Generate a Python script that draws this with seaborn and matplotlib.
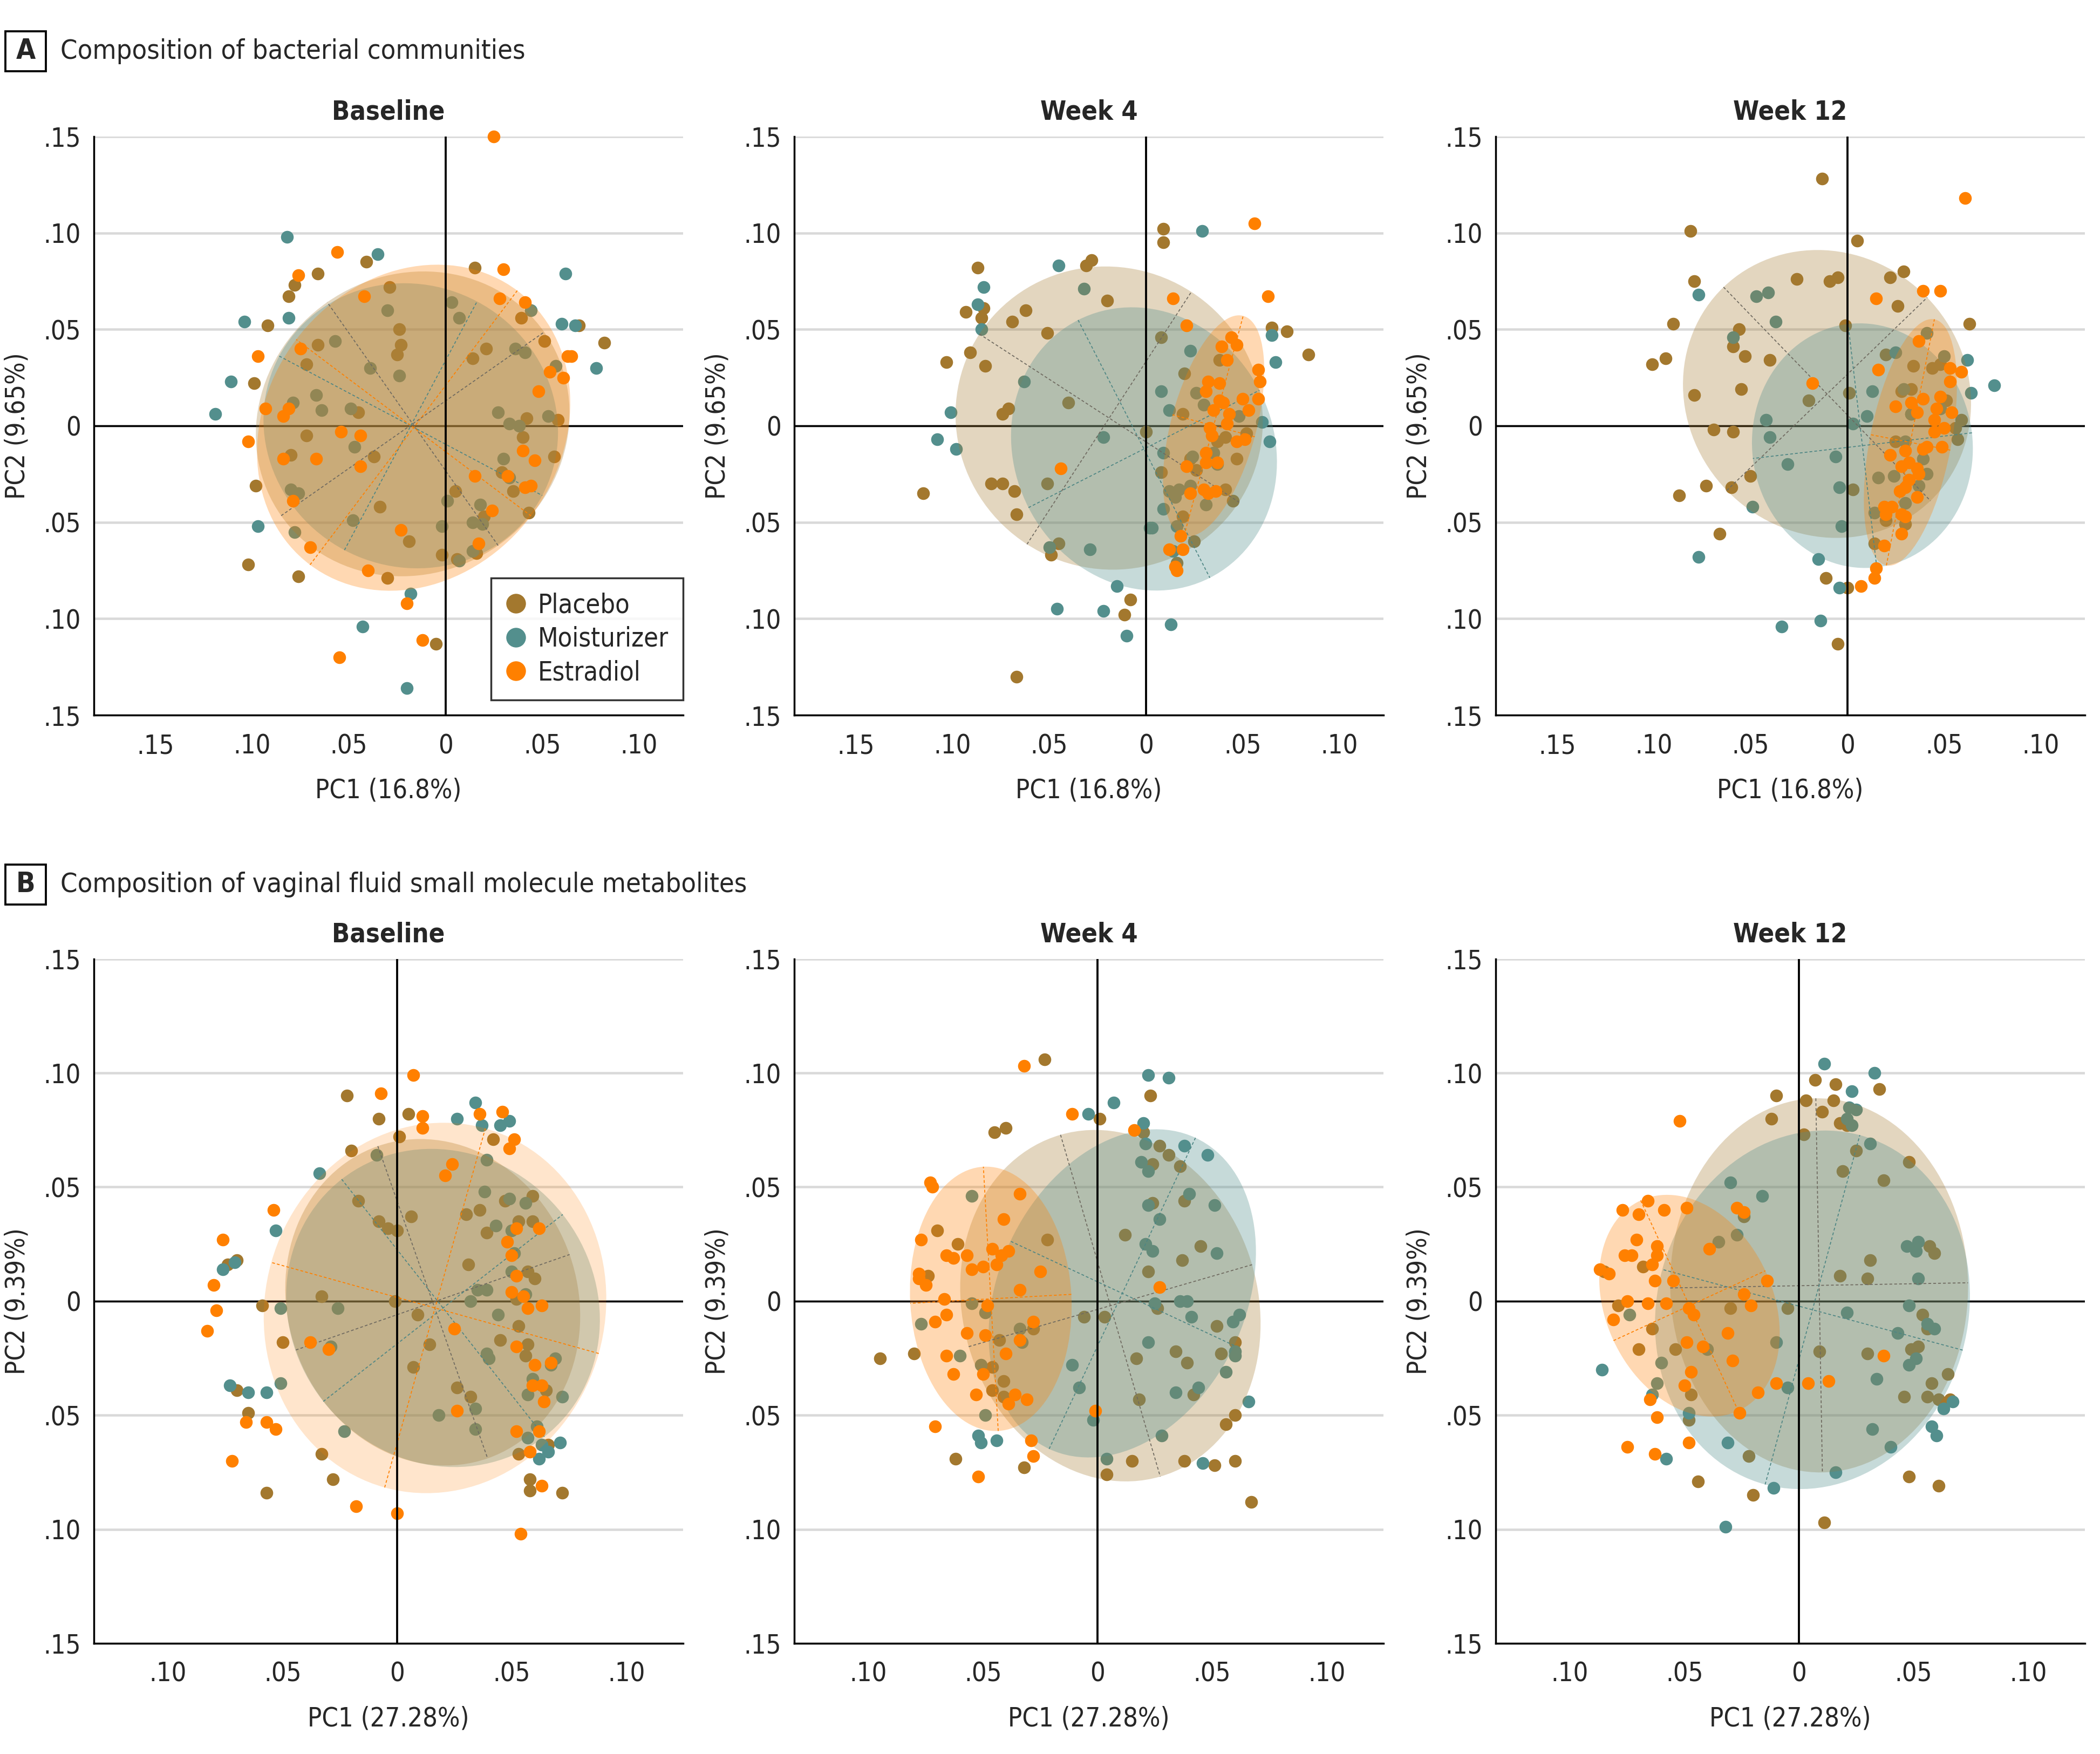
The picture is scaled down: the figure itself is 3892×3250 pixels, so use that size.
import matplotlib
matplotlib.use("Agg")
import matplotlib.pyplot as plt
import seaborn as sns
import numpy as np
from matplotlib.patches import Ellipse, Rectangle
from matplotlib.lines import Line2D
from matplotlib.ticker import FuncFormatter

# -----------------------------
# Data
# -----------------------------
GROUPS = ["Placebo", "Moisturizer", "Estradiol"]
COLORS = {"Placebo": "#A3782E", "Moisturizer": "#538F8D", "Estradiol": "#FF8000"}
LINE_COLORS = {"Placebo": "#6F6A60", "Moisturizer": "#4E8684", "Estradiol": "#FF8000"}

# ---- A: bacterial communities ----
a_base_placebo = [(-0.041,0.085),(-0.066,0.079),(-0.078,0.073),(-0.081,0.067),(-0.092,0.052),(-0.066,0.042),(-0.072,0.032),(-0.099,0.022),(-0.029,0.072),(-0.024,0.050),(-0.023,0.042),(-0.025,0.037),(-0.045,0.007),(-0.072,-0.005),(-0.080,-0.015),(-0.037,-0.016),(-0.098,-0.031),(-0.034,-0.042),(-0.019,-0.060),(-0.102,-0.072),(-0.076,-0.078),(-0.030,-0.079),(-0.005,-0.113),(-0.002,-0.067),(0.006,-0.069),(0.005,-0.034),(0.020,-0.047),(0.016,-0.066),(0.029,-0.024),(0.035,-0.034),(0.043,-0.045),(0.040,-0.006),(0.042,0.004),(0.058,0.003),(0.056,-0.016),(0.051,0.044),(0.039,0.056),(0.021,0.040),(0.014,0.035),(0.015,0.082),(0.069,0.052),(0.082,0.043)]
a_base_moist = [(-0.082,0.098),(-0.035,0.089),(-0.104,0.054),(-0.081,0.056),(-0.111,0.023),(-0.119,0.006),(-0.057,0.044),(-0.039,0.030),(-0.030,0.060),(-0.024,0.026),(-0.067,0.016),(-0.064,0.008),(-0.049,0.009),(-0.079,0.012),(-0.047,-0.011),(-0.080,-0.033),(-0.076,-0.035),(-0.048,-0.049),(-0.078,-0.055),(-0.097,-0.052),(-0.018,-0.087),(-0.043,-0.104),(-0.020,-0.136),(0.001,-0.039),(-0.002,-0.052),(0.007,-0.070),(0.014,-0.065),(0.018,-0.041),(0.014,-0.050),(0.019,-0.051),(0.030,-0.017),(0.033,-0.027),(0.027,0.007),(0.033,0.001),(0.038,0.000),(0.053,0.005),(0.036,0.040),(0.041,0.038),(0.057,0.031),(0.044,0.060),(0.003,0.064),(0.007,0.056),(0.062,0.079),(0.060,0.053),(0.067,0.052),(0.078,0.030)]
a_base_estr = [(0.025,0.150),(-0.056,0.090),(-0.076,0.078),(-0.042,0.067),(-0.075,0.040),(-0.097,0.036),(-0.093,0.009),(-0.081,0.009),(-0.084,0.005),(-0.102,-0.008),(-0.084,-0.017),(-0.067,-0.017),(-0.054,-0.003),(-0.044,-0.005),(-0.044,-0.021),(-0.079,-0.039),(-0.070,-0.063),(-0.040,-0.075),(-0.023,-0.054),(-0.020,-0.092),(-0.012,-0.111),(-0.055,-0.120),(0.015,-0.026),(0.024,-0.044),(0.017,-0.061),(0.032,-0.026),(0.041,-0.032),(0.044,-0.031),(0.040,-0.013),(0.046,-0.018),(0.048,0.018),(0.054,0.028),(0.061,0.025),(0.063,0.036),(0.065,0.036),(0.041,0.064),(0.028,0.066),(0.030,0.081)]
# ellipses: (center x, center y, semi-major, semi-minor, angle deg)
a_base_ell = [(-0.017,0.001,0.083,0.077,35), (-0.018,0.000,0.077,0.073,-28), (-0.0165,-0.001,0.089,0.076,53)]

a_wk4_placebo = [(-0.087,0.082),(-0.084,0.061),(-0.085,0.056),(-0.093,0.059),(-0.091,0.038),(-0.103,0.033),(-0.083,0.031),(-0.069,0.054),(-0.062,0.060),(-0.051,0.048),(-0.031,0.083),(-0.028,0.086),(-0.020,0.065),(-0.071,0.009),(-0.074,0.006),(-0.040,0.012),(-0.080,-0.030),(-0.074,-0.030),(-0.068,-0.034),(-0.115,-0.035),(-0.067,-0.046),(-0.051,-0.030),(-0.045,-0.061),(-0.049,-0.067),(-0.067,-0.130),(-0.008,-0.090),(-0.011,-0.098),(0.000,-0.003),(0.009,0.102),(0.009,0.095),(0.008,0.046),(0.020,0.027),(0.019,0.006),(0.025,-0.060),(0.016,-0.071),(0.008,-0.024),(0.026,-0.023),(0.045,-0.039),(0.047,-0.017),(0.041,-0.033),(0.038,0.034),(0.065,0.051),(0.073,0.049),(0.084,0.037),(0.052,-0.004),(0.037,-0.008),(0.041,-0.006),(0.023,-0.017),(0.019,-0.047)]
a_wk4_moist = [(-0.045,0.083),(-0.084,0.072),(-0.087,0.063),(-0.085,0.050),(-0.032,0.071),(-0.063,0.023),(-0.101,0.007),(-0.108,-0.007),(-0.098,-0.012),(-0.022,-0.006),(0.008,0.018),(0.012,0.008),(0.023,0.039),(0.065,0.047),(0.067,0.033),(0.060,0.002),(0.064,-0.008),(0.009,-0.014),(0.009,-0.043),(0.003,-0.053),(0.002,-0.053),(0.014,-0.065),(0.031,-0.041),(0.016,-0.052),(-0.029,-0.064),(-0.050,-0.063),(-0.015,-0.083),(-0.046,-0.095),(-0.022,-0.096),(-0.010,-0.109),(0.013,-0.103),(0.029,0.101),(0.026,0.017),(0.030,0.011),(0.024,-0.016),(0.035,-0.014),(0.012,-0.034),(0.017,-0.033),(0.023,-0.031),(0.015,-0.037),(0.048,0.005),(0.037,-0.020)]
a_wk4_estr = [(0.056,0.105),(0.063,0.067),(0.014,0.066),(0.021,0.052),(0.044,0.046),(0.039,0.041),(0.047,0.042),(0.042,0.034),(0.058,0.029),(0.059,0.023),(0.032,0.023),(0.038,0.022),(0.031,0.018),(0.038,0.013),(0.040,0.012),(0.035,0.008),(0.043,0.006),(0.050,0.014),(0.053,0.008),(0.058,0.014),(0.042,0.001),(0.033,-0.001),(0.034,-0.005),(0.047,-0.008),(0.051,-0.007),(0.031,-0.014),(0.031,-0.019),(0.037,-0.019),(0.021,-0.021),(0.030,-0.033),(0.036,-0.034),(0.032,-0.035),(0.023,-0.035),(0.018,-0.057),(0.012,-0.064),(0.019,-0.064),(0.015,-0.073),(0.016,-0.075),(-0.044,-0.022)]
a_wk4_ell = [(-0.019,0.004,0.080,0.078,-33), (-0.001,-0.012,0.075,0.067,-63), (0.035,0.000,0.059,0.022,75)]

a_wk12_placebo = [(-0.013,0.128),(-0.081,0.101),(0.005,0.096),(-0.079,0.075),(-0.026,0.076),(-0.009,0.075),(-0.005,0.077),(0.022,0.077),(0.029,0.080),(0.026,0.062),(-0.001,0.052),(-0.090,0.053),(-0.056,0.050),(-0.059,0.041),(-0.053,0.036),(-0.040,0.034),(-0.094,0.035),(-0.101,0.032),(-0.079,0.016),(-0.055,0.019),(-0.020,0.013),(0.001,0.017),(-0.069,-0.002),(-0.059,-0.003),(-0.050,-0.026),(-0.060,-0.032),(-0.073,-0.031),(-0.087,-0.036),(-0.066,-0.056),(-0.011,-0.079),(0.000,-0.084),(-0.005,-0.113),(0.003,-0.033),(0.063,0.053),(0.020,0.037),(0.034,0.031),(0.044,0.030),(0.048,0.032),(0.033,0.019),(0.028,0.018),(0.033,0.006),(0.051,0.013),(0.059,0.003),(0.056,-0.001),(0.057,-0.007),(0.025,-0.008),(0.020,-0.049),(0.030,-0.051),(0.014,-0.061)]
a_wk12_moist = [(-0.077,0.068),(-0.047,0.067),(-0.041,0.069),(-0.037,0.054),(-0.059,0.046),(-0.042,0.003),(-0.040,-0.006),(-0.031,-0.020),(-0.006,-0.016),(-0.004,-0.032),(-0.003,-0.052),(-0.049,-0.042),(-0.077,-0.068),(-0.015,-0.069),(-0.004,-0.084),(-0.014,-0.101),(-0.034,-0.104),(0.003,0.001),(0.010,0.005),(0.013,0.018),(0.025,0.038),(0.041,0.048),(0.050,0.036),(0.062,0.034),(0.064,0.017),(0.076,0.021),(0.029,0.019),(0.033,0.006),(0.048,0.009),(0.016,-0.027),(0.024,-0.026),(0.030,-0.040),(0.037,-0.031),(0.041,-0.025),(0.039,-0.017),(0.014,-0.045),(0.030,-0.008)]
a_wk12_estr = [(0.061,0.118),(0.015,0.066),(0.039,0.070),(0.048,0.070),(0.037,0.044),(0.016,0.029),(0.053,0.030),(0.059,0.028),(0.053,0.023),(-0.018,0.022),(0.025,0.010),(0.033,0.012),(0.039,0.014),(0.036,0.007),(0.048,0.015),(0.046,0.009),(0.054,0.007),(0.045,0.003),(0.045,-0.003),(0.050,-0.001),(0.049,-0.011),(0.039,-0.012),(0.041,-0.011),(0.022,-0.015),(0.030,-0.013),(0.028,-0.021),(0.032,-0.019),(0.036,-0.022),(0.037,-0.025),(0.032,-0.028),(0.027,-0.034),(0.030,-0.032),(0.036,-0.037),(0.019,-0.042),(0.023,-0.042),(0.020,-0.046),(0.028,-0.046),(0.030,-0.047),(0.028,-0.056),(0.019,-0.062),(0.015,-0.074),(0.014,-0.079),(0.007,-0.083)]
a_wk12_ell = [(-0.0105,0.0165,0.077,0.072,-46), (0.0078,-0.0103,0.0635,0.057,96.7), (0.0326,-0.0086,0.065,0.021,79)]

# ---- B: vaginal fluid metabolites ----
b_base_placebo = [(-0.022,0.090),(-0.008,0.080),(0.005,0.082),(0.001,0.072),(-0.020,0.066),(-0.017,0.044),(-0.008,0.035),(-0.004,0.032),(0.000,0.031),(0.006,0.037),(-0.070,0.018),(-0.074,0.016),(-0.033,0.002),(-0.059,-0.002),(-0.050,-0.018),(-0.001,0.000),(0.009,-0.006),(0.014,-0.019),(0.007,-0.029),(0.026,-0.038),(0.032,-0.042),(-0.070,-0.039),(-0.065,-0.049),(-0.033,-0.067),(-0.028,-0.078),(-0.057,-0.084),(0.042,0.071),(0.059,0.046),(0.047,0.044),(0.036,0.040),(0.030,0.038),(0.053,0.035),(0.059,0.035),(0.039,0.030),(0.031,0.016),(0.057,0.013),(0.060,0.010),(0.052,0.001),(0.053,-0.011),(0.045,-0.017),(0.057,-0.019),(0.056,-0.024),(0.065,-0.039),(0.066,-0.063),(0.053,-0.067),(0.058,-0.078),(0.058,-0.083),(0.072,-0.084)]
b_base_moist = [(-0.034,0.056),(-0.053,0.031),(-0.076,0.014),(-0.071,0.017),(-0.009,0.064),(-0.051,-0.003),(-0.026,-0.003),(-0.029,-0.020),(-0.051,-0.036),(-0.073,-0.037),(-0.065,-0.040),(-0.057,-0.040),(-0.023,-0.057),(0.026,0.080),(0.034,0.087),(0.037,0.077),(0.045,0.077),(0.049,0.079),(0.039,0.062),(0.038,0.048),(0.049,0.045),(0.056,0.043),(0.043,0.033),(0.050,0.031),(0.051,0.021),(0.050,0.013),(0.035,0.005),(0.039,0.005),(0.032,0.000),(0.056,0.003),(0.044,-0.006),(0.039,-0.023),(0.040,-0.025),(0.069,-0.025),(0.067,-0.028),(0.059,-0.034),(0.057,-0.041),(0.072,-0.042),(0.034,-0.047),(0.018,-0.050),(0.034,-0.056),(0.061,-0.055),(0.057,-0.060),(0.063,-0.063),(0.066,-0.066),(0.071,-0.062),(0.062,-0.069)]
b_base_estr = [(0.007,0.099),(-0.007,0.091),(0.011,0.081),(0.011,0.076),(0.024,0.060),(0.021,0.055),(-0.054,0.040),(-0.076,0.027),(-0.080,0.007),(-0.079,-0.004),(-0.083,-0.013),(-0.038,-0.018),(-0.030,-0.021),(0.025,-0.012),(-0.066,-0.053),(-0.057,-0.053),(-0.053,-0.056),(-0.072,-0.070),(-0.018,-0.090),(0.000,-0.093),(0.026,-0.048),(0.054,-0.102),(0.036,0.082),(0.046,0.083),(0.051,0.071),(0.049,0.067),(0.052,0.032),(0.062,0.032),(0.048,0.026),(0.050,0.020),(0.052,0.011),(0.050,0.004),(0.055,0.002),(0.057,-0.003),(0.063,-0.002),(0.052,-0.020),(0.060,-0.028),(0.067,-0.027),(0.059,-0.037),(0.063,-0.037),(0.064,-0.044),(0.052,-0.057),(0.062,-0.057),(0.058,-0.066),(0.063,-0.081)]
b_base_ell = [(0.0155,-0.0005,0.0725,0.0633,-70.7), (0.020,-0.003,0.0717,0.0664,-51.9), (0.0165,-0.003,0.0817,0.0742,74.4)]

b_wk4_placebo = [(-0.023,0.106),(-0.045,0.074),(-0.040,0.076),(0.001,0.080),(0.023,0.090),(0.020,0.074),(0.027,0.068),(0.031,0.064),(0.024,0.060),(0.036,0.059),(0.024,0.043),(0.038,0.044),(-0.022,0.027),(-0.070,0.031),(-0.061,0.025),(-0.074,0.011),(0.012,0.029),(0.045,0.024),(0.037,0.018),(0.022,0.013),(0.026,-0.003),(-0.006,-0.007),(0.003,-0.007),(-0.028,-0.012),(-0.043,-0.017),(-0.080,-0.023),(-0.095,-0.025),(-0.046,-0.029),(-0.041,-0.035),(-0.046,-0.039),(-0.041,-0.042),(0.034,-0.022),(0.017,-0.025),(0.039,-0.027),(0.052,-0.011),(0.060,-0.018),(0.054,-0.023),(0.042,-0.041),(0.018,-0.043),(0.056,-0.054),(0.060,-0.050),(0.038,-0.070),(0.051,-0.072),(0.060,-0.070),(0.067,-0.088),(0.015,-0.070),(0.004,-0.076),(-0.032,-0.073),(-0.062,-0.069)]
b_wk4_moist = [(0.022,0.099),(0.031,0.098),(0.007,0.087),(-0.004,0.082),(0.020,0.078),(0.021,0.069),(0.019,0.061),(0.022,0.057),(0.038,0.068),(0.048,0.064),(0.040,0.047),(0.022,0.042),(0.051,0.042),(0.027,0.036),(0.021,0.025),(0.024,0.022),(0.052,0.021),(-0.055,0.046),(-0.077,-0.010),(-0.060,-0.024),(-0.055,-0.001),(-0.049,-0.005),(-0.034,-0.012),(-0.033,-0.018),(-0.051,-0.028),(-0.049,-0.050),(-0.052,-0.059),(-0.051,-0.062),(-0.044,-0.061),(-0.011,-0.028),(-0.008,-0.038),(-0.002,-0.052),(0.004,-0.069),(0.022,-0.018),(0.025,-0.001),(0.036,0.000),(0.039,0.000),(0.041,-0.007),(0.062,-0.006),(0.059,-0.009),(0.060,-0.022),(0.060,-0.024),(0.056,-0.031),(0.044,-0.038),(0.034,-0.040),(0.066,-0.044),(0.028,-0.059),(0.046,-0.071)]
b_wk4_estr = [(-0.032,0.103),(-0.011,0.082),(0.016,0.075),(-0.073,0.052),(-0.072,0.050),(-0.034,0.047),(-0.041,0.036),(-0.077,0.027),(-0.046,0.023),(-0.039,0.022),(-0.042,0.020),(-0.066,0.020),(-0.063,0.019),(-0.057,0.020),(-0.055,0.014),(-0.050,0.015),(-0.044,0.016),(-0.025,0.013),(-0.078,0.012),(-0.078,0.010),(-0.075,0.007),(-0.034,0.005),(0.027,0.006),(-0.067,0.001),(-0.048,-0.002),(-0.066,-0.006),(-0.071,-0.009),(-0.028,-0.009),(-0.057,-0.014),(-0.049,-0.015),(-0.034,-0.017),(-0.040,-0.023),(-0.066,-0.024),(-0.063,-0.032),(-0.050,-0.032),(-0.053,-0.041),(-0.039,-0.045),(-0.036,-0.041),(-0.031,-0.043),(-0.001,-0.048),(-0.071,-0.055),(-0.029,-0.061),(-0.028,-0.068),(-0.052,-0.077)]
b_wk4_ell = [(0.0056,-0.002,0.078,0.0644,-73.8), (0.0108,0.0034,0.0753,0.0539,64.9), (-0.0466,0.001,0.058,0.0352,93.2)]

b_wk12_placebo = [(-0.010,0.090),(-0.012,0.080),(0.007,0.097),(0.016,0.095),(0.035,0.093),(0.003,0.088),(0.015,0.088),(0.010,0.083),(0.018,0.078),(0.021,0.077),(0.002,0.073),(0.025,0.066),(0.019,0.057),(0.037,0.053),(0.048,0.061),(-0.024,0.037),(0.031,0.018),(0.018,0.011),(0.030,0.010),(0.057,0.024),(0.059,0.021),(-0.068,0.015),(-0.085,0.013),(-0.079,-0.002),(-0.030,-0.003),(-0.005,-0.003),(-0.064,-0.012),(-0.070,-0.021),(-0.054,-0.021),(0.009,-0.022),(0.030,-0.023),(0.049,-0.021),(0.052,-0.020),(0.054,-0.006),(0.056,-0.012),(0.065,-0.032),(0.058,-0.036),(0.046,-0.042),(0.056,-0.042),(0.061,-0.043),(0.066,-0.043),(-0.047,-0.041),(-0.048,-0.052),(-0.022,-0.068),(-0.044,-0.079),(-0.020,-0.085),(0.011,-0.097),(0.048,-0.077),(0.061,-0.081)]
b_wk12_moist = [(0.011,0.104),(0.033,0.100),(0.023,0.092),(0.022,0.085),(0.025,0.084),(0.021,0.080),(0.023,0.077),(0.031,0.069),(-0.030,0.052),(-0.016,0.046),(-0.035,0.026),(-0.027,0.029),(0.047,0.024),(0.052,0.026),(0.051,0.022),(0.052,0.010),(0.048,-0.002),(0.021,-0.005),(0.043,-0.014),(0.056,-0.010),(0.059,-0.012),(0.051,-0.025),(0.048,-0.028),(0.034,-0.034),(-0.010,-0.018),(-0.005,-0.038),(-0.040,-0.021),(-0.060,-0.027),(-0.062,-0.036),(-0.064,-0.041),(-0.074,-0.006),(-0.086,-0.030),(-0.048,-0.049),(0.032,-0.056),(0.040,-0.064),(0.063,-0.047),(0.067,-0.044),(0.058,-0.055),(0.060,-0.059),(0.016,-0.075),(-0.011,-0.082),(-0.031,-0.062),(-0.058,-0.069),(-0.032,-0.099)]
b_wk12_estr = [(-0.052,0.079),(-0.066,0.044),(-0.077,0.040),(-0.070,0.038),(-0.059,0.040),(-0.049,0.041),(-0.027,0.041),(-0.024,0.039),(-0.071,0.027),(-0.062,0.024),(-0.076,0.020),(-0.073,0.020),(-0.062,0.020),(-0.064,0.016),(-0.087,0.014),(-0.083,0.012),(-0.039,0.023),(-0.063,0.009),(-0.055,0.009),(-0.014,0.009),(-0.075,0.000),(-0.066,-0.001),(-0.058,-0.001),(-0.024,0.003),(-0.021,-0.002),(-0.048,-0.003),(-0.046,-0.006),(-0.081,-0.008),(-0.031,-0.014),(-0.049,-0.018),(-0.042,-0.020),(-0.029,-0.026),(-0.047,-0.031),(-0.050,-0.037),(-0.010,-0.036),(0.004,-0.036),(0.013,-0.035),(-0.018,-0.040),(0.037,-0.024),(-0.065,-0.043),(-0.062,-0.051),(-0.026,-0.049),(-0.075,-0.064),(-0.063,-0.067),(-0.048,-0.062)]
b_wk12_ell = [(0.0088,0.0069,0.082,0.065,-89), (0.0059,-0.0038,0.0793,0.0679,74.9), (-0.0478,-0.002,0.0508,0.0365,-65.2)]

A_XTICKS = [-0.15, -0.10, -0.05, 0, 0.05, 0.10]
B_XTICKS = [-0.10, -0.05, 0, 0.05, 0.10]
YTICKS = [-0.15, -0.10, -0.05, 0, 0.05, 0.10, 0.15]

# -----------------------------
# Style
# -----------------------------
sns.set_style("white")
plt.rcParams["font.family"] = ["DejaVu Sans"]
plt.rcParams["font.stretch"] = "condensed"
plt.rcParams["axes.unicode_minus"] = False


def tick_fmt(v, pos=None):
    if abs(v) < 1e-9:
        return "0"
    return f"{abs(v):.2f}".lstrip("0")


def draw_panel(ax, pts, ells, xlim, xticks, title, xlabel, ylabel, ell_alpha=(0.3, 0.33, 0.3)):
    # placebo + moisturizer points sit under the ellipses, estradiol on top
    for g, p in zip(GROUPS, pts):
        xs = [q[0] for q in p]
        ys = [q[1] for q in p]
        z = 4 if g == "Estradiol" else 2
        sns.scatterplot(x=xs, y=ys, color=COLORS[g], s=46, linewidth=0,
                        ax=ax, zorder=z, clip_on=False, legend=False)

    for g, e, al in zip(GROUPS, ells, ell_alpha):
        cx, cy, a, b, ang = e
        ax.add_patch(Ellipse((cx, cy), 2 * a, 2 * b, angle=ang, facecolor=COLORS[g],
                             alpha=al, linewidth=0, zorder=3))
        t = np.deg2rad(ang)
        for r, (dx, dy) in [(a, (np.cos(t), np.sin(t))), (b, (-np.sin(t), np.cos(t)))]:
            ax.plot([cx - r * dx, cx + r * dx], [cy - r * dy, cy + r * dy],
                    color=LINE_COLORS[g], lw=0.5, ls=(0, (3, 2.2)), zorder=3.5)

    ax.axhline(0, color="black", lw=1.0, zorder=1.5)
    ax.axvline(0, color="black", lw=1.1, zorder=5)

    ax.set_xlim(*xlim)
    ax.set_ylim(-0.15, 0.15)
    ax.set_xticks(xticks)
    ax.set_yticks(YTICKS)
    ax.xaxis.set_major_formatter(FuncFormatter(tick_fmt))
    ax.yaxis.set_major_formatter(FuncFormatter(tick_fmt))
    ax.set_axisbelow(True)
    ax.yaxis.grid(True, color="#D9D9D9", lw=1.3)
    ax.xaxis.grid(False)
    for s in ["top", "right"]:
        ax.spines[s].set_visible(False)
    for s in ["left", "bottom"]:
        ax.spines[s].set_color("black")
        ax.spines[s].set_linewidth(1.0)
    ax.tick_params(axis="both", length=4.5, width=1, color="black", labelsize=14)
    ax.tick_params(axis="x", pad=5)
    ax.tick_params(axis="y", pad=2.5)
    ax.set_title(title, fontsize=14, fontweight="bold", pad=9)
    ax.set_xlabel(xlabel, fontsize=14, labelpad=10)
    ax.set_ylabel(ylabel, fontsize=14, labelpad=7)


fig = plt.figure(figsize=(15.568, 13.0), dpi=250)

A_XLIM = (-0.1818, 0.1228)
B_XLIM = (-0.1324, 0.1248)
col_left = [0.0447, 0.3782, 0.7122]
w = 0.2806

row_a = [
    ("Baseline", [a_base_placebo, a_base_moist, a_base_estr], a_base_ell),
    ("Week 4", [a_wk4_placebo, a_wk4_moist, a_wk4_estr], a_wk4_ell),
    ("Week 12", [a_wk12_placebo, a_wk12_moist, a_wk12_estr], a_wk12_ell),
]
row_b = [
    ("Baseline", [b_base_placebo, b_base_moist, b_base_estr], b_base_ell),
    ("Week 4", [b_wk4_placebo, b_wk4_moist, b_wk4_estr], b_wk4_ell),
    ("Week 12", [b_wk12_placebo, b_wk12_moist, b_wk12_estr], b_wk12_ell),
]

axes_a = []
for i, (title, pts, ells) in enumerate(row_a):
    ax = fig.add_axes([col_left[i], 0.5923, w, 0.3299])
    draw_panel(ax, pts, ells, A_XLIM, A_XTICKS, title, "PC1 (16.8%)", "PC2 (9.65%)")
    axes_a.append(ax)

for i, (title, pts, ells) in enumerate(row_b):
    ax = fig.add_axes([col_left[i], 0.0631, w, 0.3902])
    alphas = (0.3, 0.33, 0.2) if i == 0 else (0.3, 0.33, 0.3)
    draw_panel(ax, pts, ells, B_XLIM, B_XTICKS, title, "PC1 (27.28%)", "PC2 (9.39%)", alphas)

# legend in first panel
handles = [Line2D([0], [0], marker="o", ls="", markersize=10.5, markeredgewidth=0,
                  markerfacecolor=COLORS[g]) for g in GROUPS]
leg = axes_a[0].legend(handles, GROUPS, loc="lower right", bbox_to_anchor=(1.0, 0.026),
                       borderaxespad=0, fontsize=14, frameon=True, fancybox=False,
                       handlelength=0.8, handletextpad=0.45, labelspacing=0.3,
                       borderpad=0.55)
leg.get_frame().set_edgecolor("black")
leg.get_frame().set_linewidth(1.0)
leg.set_zorder(10)

# panel headers
for letter, yc, txt in [("A", 0.9708, "Composition of bacterial communities"),
                        ("B", 0.4957, "Composition of vaginal fluid small molecule metabolites")]:
    fig.add_artist(Rectangle((10 / 3892, yc - 37 / 3250), 75 / 3892, 74 / 3250,
                             transform=fig.transFigure, fill=False, ec="black", lw=1.1))
    fig.text(47.5 / 3892, yc, letter, ha="center", va="center", fontsize=15, fontweight="bold")
    fig.text(112 / 3892, yc, txt, ha="left", va="center", fontsize=14.5)

fig.savefig("out.png", dpi=250)
